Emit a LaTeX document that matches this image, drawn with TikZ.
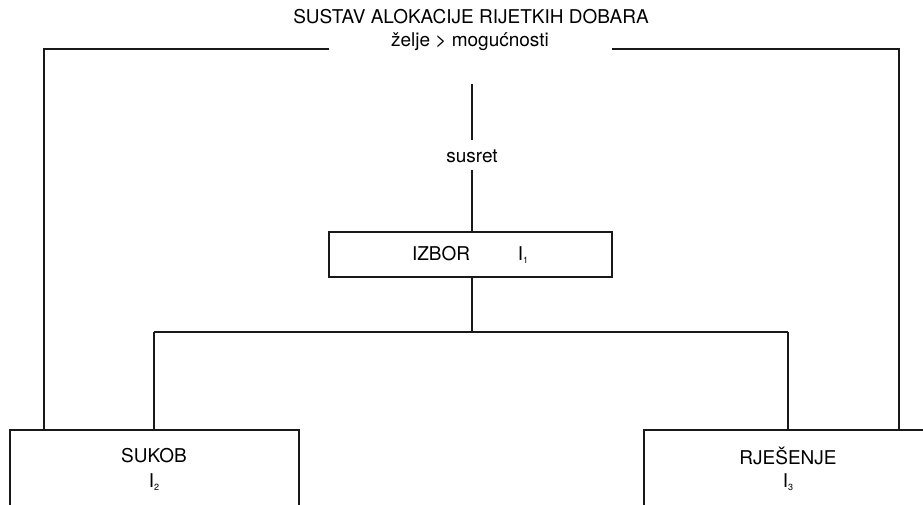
\documentclass[tikz,border=0pt]{standalone}
\usepackage{fontspec}
\setmainfont{TeX Gyre Heros}
\newcommand{\isub}[1]{I\raisebox{-0.25ex}{\fontsize{9}{10}\selectfont #1}}
\begin{document}
\begin{tikzpicture}[x=1pt,y=-1pt,
  ln/.style={line width=1.5pt,draw=black!90},
  lbl/.style={font=\fontsize{19}{22}\selectfont,inner sep=0pt}]
\useasboundingbox (0,0) rectangle (923,505);
\clip (0,0) rectangle (923,505);
% text
\node[lbl] (title) at (471,17) {SUSTAV ALOKACIJE RIJETKIH DOBARA};
\node[lbl] (wish) at (470,42) {želje > mogućnosti};
\node[lbl] (susret) at (472,156) {susret};
% boxes
\node[ln,draw,minimum width=283pt,minimum height=45pt,anchor=north west,inner sep=0pt] (izbor) at (328,231) {};
\node[lbl] (izbort) at (441,254) {IZBOR};
\node[lbl] (i1) at (523,255) {\isub{1}};
\node[ln,draw,minimum width=289pt,minimum height=120pt,anchor=north west,inner sep=0pt] (sukob) at (9,429) {};
\node[lbl] (sukobt) at (154,456) {SUKOB};
\node[lbl] (i2) at (154,482) {\isub{2}};
\node[ln,draw,minimum width=320pt,minimum height=120pt,anchor=north west,inner sep=0pt] (rjes) at (643,429) {};
\node[lbl] (rjest) at (788,456) {RJEŠENJE};
\node[lbl] (i3) at (788,482) {\isub{3}};
% connectors
\coordinate (tl) at (329,49);
\coordinate (tr) at (612,49);
\coordinate (top) at (472,84);
\coordinate (cl) at (44,49);
\coordinate (cr) at (899,49);
\draw[ln] (tl) -- (cl) -- (cl |- sukob.north);
\draw[ln] (tr) -- (cr) -- (cr |- rjes.north);
\draw[ln] (top) -- (472,140);
\draw[ln] (472,170) -- (izbor.north -| 472,0);
\coordinate (br) at (472,332);
\draw[ln] (izbor.south -| br) -- (br);
\draw[ln] (154,332) -- (788,332);
\draw[ln] (154,332) -- (154,429);
\draw[ln] (788,332) -- (788,429);
\end{tikzpicture}
\end{document}
